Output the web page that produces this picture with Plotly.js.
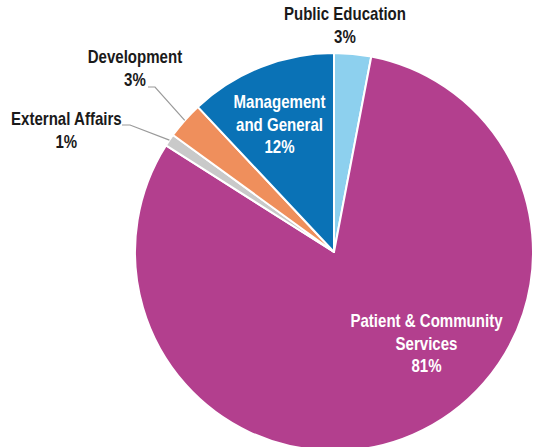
<!DOCTYPE html>
<html><head><meta charset="utf-8">
<script src="https://cdn.plot.ly/plotly-3.0.1.min.js"></script>
<style>html,body{margin:0;padding:0;overflow:hidden;background:#fff}#c{width:534px;height:451px}</style>
</head><body><div id="c"></div>
<script>
// Data (clockwise from 12 o'clock)
const labels = ["Public Education", "Patient & Community Services", "External Affairs", "Development", "Management and General"];
const values = [3, 81, 1, 3, 12];
const colors = ["#8dd0ee", "#b33f8e", "#c9c9c9", "#ef8f5c", "#0a72b6"];
const labelText = ["Public Education<br>3%", "Patient & Community<br>Services<br>81%", "External Affairs<br>1%", "Development<br>3%", "Management<br>and General<br>12%"];

const W = 534, H = 451;
const cx = 334, cy = 252, R = 199;
const px = x => x / W, py = y => 1 - y / H;

const total = values.reduce((a, b) => a + b, 0);
let cum = 0;
const mid = values.map(v => { const m = (cum + v / 2) / total * 2 * Math.PI; cum += v; return m; });
const edge = i => [cx + R * Math.sin(mid[i]), cy - R * Math.cos(mid[i])];

const font = {family: "Liberation Sans, Arial, sans-serif", size: 17.5, color: "#1a1a1a", weight: "bold"};
const wfont = Object.assign({}, font, {color: "#ffffff"});

const labelPos = [[345, 26, font], [426, 344, wfont], [66, 130, font], [135, 69, font], [279, 125, wfont]];
const annotations = labelPos.map((p, i) => ({
  xref: "paper", yref: "paper", x: px(p[0]), y: py(p[1]), xanchor: "center", yanchor: "middle",
  text: labelText[i], showarrow: false, font: p[2], align: "center"
}));

const leaders = [[3, [155, 87], [148, 87]], [2, [130, 125], [122, 125]]];
const shapes = leaders.map(l => {
  const e = edge(l[0]);
  return {type: "path", xref: "paper", yref: "paper",
    path: `M${px(e[0])},${py(e[1])} L${px(l[1][0])},${py(l[1][1])} L${px(l[2][0])},${py(l[2][1])}`,
    line: {color: "#9a9a9a", width: 1.2}};
});

const trace = {
  type: "pie", labels: labels, values: values, sort: false, direction: "clockwise", rotation: 0,
  marker: {colors: colors, line: {color: "#ffffff", width: 2}},
  textinfo: "none", hoverinfo: "label+percent", automargin: false,
  domain: {x: [px(cx - R), px(cx + R)], y: [py(cy + R), py(cy - R)]}
};

Plotly.newPlot("c", [trace], {
  width: W, height: H, margin: {l: 0, r: 0, t: 0, b: 0}, showlegend: false,
  paper_bgcolor: "#fff", annotations: annotations, shapes: shapes
}, {displayModeBar: false, staticPlot: true}).then(gd => {
  // condense annotation text horizontally (condensed bold look)
  const S = 0.86;
  gd.querySelectorAll("text.annotation-text").forEach(t => {
    const b = t.getBBox();
    const c = b.x + b.width / 2;
    t.setAttribute("transform", `translate(${c},0) scale(${S},1) translate(${-c},0)`);
  });
});
</script></body></html>
